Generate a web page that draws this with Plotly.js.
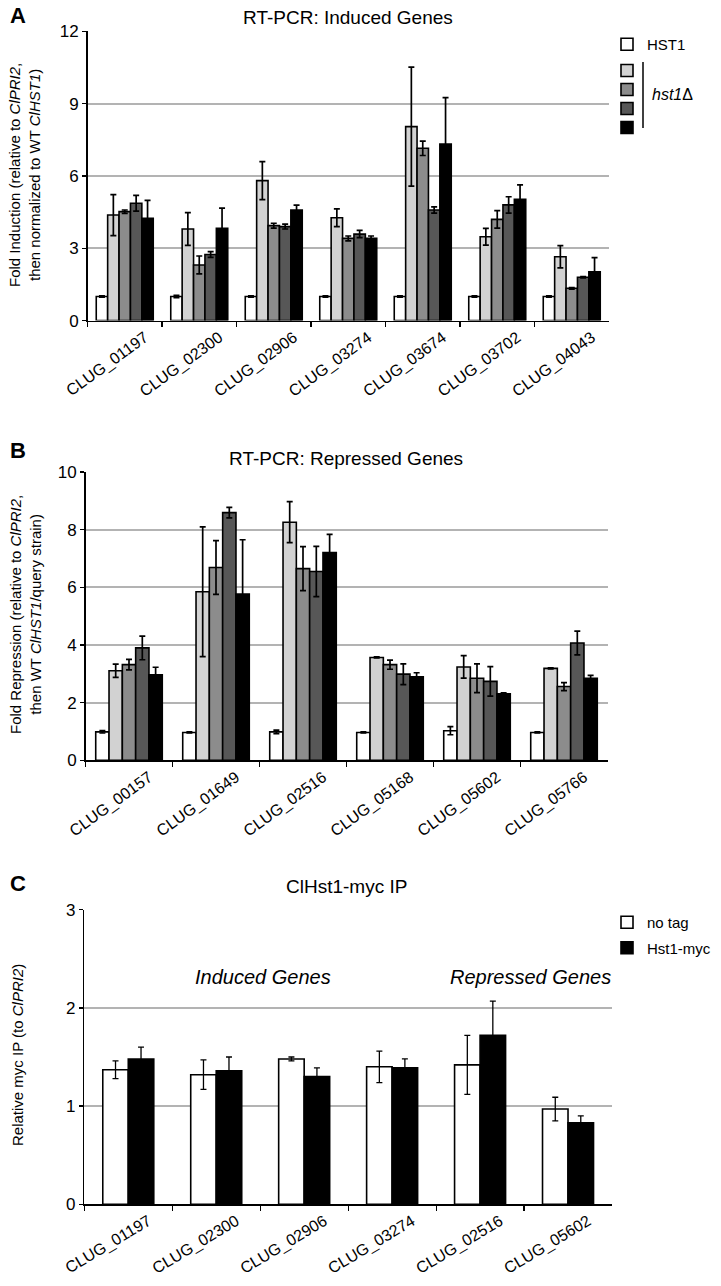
<!DOCTYPE html>
<html>
<head>
<meta charset="utf-8">
<script src="https://cdn.plot.ly/plotly-3.0.1.min.js"></script>
<style>html,body{margin:0;padding:0;background:#fff;}#chart{width:721px;height:1286px;}</style>
</head>
<body>
<div id="chart"></div>
<script>
// ---------- Data ----------
const catsA = ['CLUG_01197','CLUG_02300','CLUG_02906','CLUG_03274','CLUG_03674','CLUG_03702','CLUG_04043'];
const wtA    = [1.00,1.00,1.00,1.00,1.00,1.00,1.00];
const wtAerr = [0.03,0.05,0.03,0.03,0.03,0.03,0.03];
const m1A    = [4.38,3.80,5.81,4.27,8.05,3.48,2.65];
const m1Aerr = [0.85,0.68,0.79,0.37,2.47,0.35,0.46];
const m2A    = [4.52,2.31,3.94,3.41,7.15,4.20,1.34];
const m2Aerr = [0.07,0.37,0.10,0.10,0.30,0.36,0.03];
const m3A    = [4.87,2.74,3.90,3.59,4.59,4.80,1.80];
const m3Aerr = [0.33,0.12,0.10,0.15,0.13,0.34,0.03];
const m4A    = [4.24,3.83,4.59,3.41,7.33,5.03,2.03];
const m4Aerr = [0.75,0.84,0.20,0.10,1.92,0.60,0.58];

const catsB = ['CLUG_00157','CLUG_01649','CLUG_02516','CLUG_05168','CLUG_05602','CLUG_05766'];
const wtB    = [0.99,0.97,0.99,0.97,1.03,0.97];
const wtBerr = [0.04,0.02,0.06,0.02,0.14,0.02];
const m1B    = [3.11,5.85,8.26,3.57,3.24,3.19];
const m1Berr = [0.23,2.25,0.71,0.02,0.39,0.02];
const m2B    = [3.32,6.69,6.65,3.32,2.85,2.56];
const m2Berr = [0.18,0.93,0.76,0.16,0.50,0.14];
const m3B    = [3.90,8.59,6.55,2.99,2.74,4.07];
const m3Berr = [0.41,0.18,0.87,0.36,0.51,0.41];
const m4B    = [2.97,5.77,7.21,2.90,2.31,2.85];
const m4Berr = [0.26,1.88,0.63,0.14,0.03,0.10];

const catsC = ['CLUG_01197','CLUG_02300','CLUG_02906','CLUG_03274','CLUG_02516','CLUG_05602'];
const noTagC    = [1.37,1.32,1.48,1.40,1.42,0.97];
const noTagCerr = [0.09,0.15,0.02,0.16,0.30,0.12];
const mycC      = [1.48,1.36,1.30,1.39,1.72,0.83];
const mycCerr   = [0.12,0.14,0.09,0.09,0.35,0.07];

const seriesNamesA = ['HST1',' ','  ','   ','    '];
const seriesNamesC = ['no tag','Hst1-myc'];
const shades = ['#ffffff','#d2d2d2','#8c8c8c','#575757','#000000'];

// ---------- Build traces ----------
const FONT = 'Liberation Sans, Arial, sans-serif';
function bar(x, y, err, color, name, xa, ya, opts) {
  return Object.assign({
    type: 'bar', x: x, y: y, name: name, xaxis: xa, yaxis: ya,
    marker: {color: color, line: {color: '#000', width: 1.6}},
    error_y: {type: 'data', array: err, visible: true, color: '#000', thickness: 1.7, width: 3},
    hoverinfo: 'x+y'
  }, opts || {});
}
const traces = [];
const aVals = [[wtA,wtAerr],[m1A,m1Aerr],[m2A,m2Aerr],[m3A,m3Aerr],[m4A,m4Aerr]];
aVals.forEach((s,i)=>{
  traces.push(bar(catsA, s[0], s[1], shades[i], seriesNamesA[i], 'x', 'y',
    {legend: i===0 ? 'legend' : 'legend3', showlegend: true}));
});
const bVals = [[wtB,wtBerr],[m1B,m1Berr],[m2B,m2Berr],[m3B,m3Berr],[m4B,m4Berr]];
bVals.forEach((s,i)=>{
  traces.push(bar(catsB, s[0], s[1], shades[i], 'B'+i, 'x2', 'y2', {showlegend: false}));
});
traces.push(bar(catsC, noTagC, noTagCerr, '#ffffff', seriesNamesC[0], 'x3', 'y3',
  {legend: 'legend2', legendgroup: 'c1', width: 0.29, offset: -0.29, error_y: {type:'data', array: noTagCerr, visible:true, color:'#000', thickness:1.3, width:3}}));
traces.push(bar(catsC, mycC, mycCerr, '#000000', seriesNamesC[1], 'x3', 'y3',
  {legend: 'legend2', legendgroup: 'c2', width: 0.29, offset: 0, error_y: {type:'data', array: mycCerr, visible:true, color:'#000', thickness:1.3, width:3}}));

// ---------- Layout ----------
const H = 1286, W = 721;
const py = v => 1 - v / H;   // pixel row -> paper y
const px = v => v / W;       // pixel col -> paper x

function xax(dom, anchor, angle, shift) {
  const o = {
    domain: dom, anchor: anchor, type: 'category',
    showline: true, linecolor: '#000', linewidth: 1.5,
    ticks: 'outside', tickson: 'boundaries', ticklen: 5, tickcolor: '#000', tickwidth: 1.2,
    showgrid: false, tickangle: angle,
    tickfont: {family: FONT, size: 16, color: '#000'},
    fixedrange: true
  };
  if (shift) o.ticklabelshift = shift;
  return o;
}
function yax(dom, anchor, range, dtick) {
  return {
    domain: dom, anchor: anchor, range: range, dtick: dtick, tick0: 0,
    showline: true, linecolor: '#000', linewidth: 1.5,
    ticks: 'outside', ticklen: 4, tickcolor: '#000', tickwidth: 1.2,
    showgrid: true, gridcolor: '#b3b3b3', gridwidth: 2, zeroline: false,
    tickfont: {family: FONT, size: 17, color: '#000'}, fixedrange: true
  };
}

const layout = {
  width: W, height: H, autosize: false,
  margin: {l: 0, r: 0, t: 0, b: 0},
  paper_bgcolor: '#fff', plot_bgcolor: '#fff',
  font: {family: FONT, color: '#000'},
  barmode: 'group', bargap: 0.235, bargroupgap: 0,
  xaxis:  xax([px(87.5), px(609)], 'y', -36, 20),
  yaxis:  yax([py(320.6), py(31.4)], 'x', [0, 12], 3),
  xaxis2: xax([px(85.5), px(607.5)], 'y2', -36, 20),
  yaxis2: yax([py(760.4), py(472)], 'x2', [0, 10], 2),
  xaxis3: xax([px(84.3), px(612)], 'y3', -31, 20),
  yaxis3: yax([py(1204.3), py(909.7)], 'x3', [0, 3], 1),
  legend: {
    x: px(607), y: py(28), xanchor: 'left', yanchor: 'top',
    font: {family: FONT, size: 15, color: '#000'},
    itemclick: false, itemdoubleclick: false, bgcolor: 'rgba(0,0,0,0)'
  },
  legend3: {
    x: px(607), y: py(56), xanchor: 'left', yanchor: 'top',
    font: {family: FONT, size: 8, color: '#000'},
    itemclick: false, itemdoubleclick: false, bgcolor: 'rgba(0,0,0,0)'
  },
  legend2: {
    x: px(607), y: py(906), xanchor: 'left', yanchor: 'top',
    font: {family: FONT, size: 15, color: '#000'},
    tracegroupgap: 3, itemclick: false, itemdoubleclick: false, bgcolor: 'rgba(0,0,0,0)'
  },
  shapes: [
    {type: 'line', xref: 'paper', yref: 'paper', x0: px(643), x1: px(643), y0: py(62), y1: py(128),
     line: {color: '#000', width: 1.5}}
  ],
  annotations: [
    {text: '<b>A</b>', x: px(8), y: py(15), xref: 'paper', yref: 'paper', xanchor: 'left', yanchor: 'middle', showarrow: false, font: {family: FONT, size: 22, color: '#000'}},
    {text: '<b>B</b>', x: px(8), y: py(450), xref: 'paper', yref: 'paper', xanchor: 'left', yanchor: 'middle', showarrow: false, font: {family: FONT, size: 22, color: '#000'}},
    {text: '<b>C</b>', x: px(8), y: py(883), xref: 'paper', yref: 'paper', xanchor: 'left', yanchor: 'middle', showarrow: false, font: {family: FONT, size: 22, color: '#000'}},
    {text: 'RT-PCR: Induced Genes', x: px(348), y: py(17), xref: 'paper', yref: 'paper', xanchor: 'center', yanchor: 'middle', showarrow: false, font: {family: FONT, size: 19, color: '#000'}},
    {text: 'RT-PCR: Repressed Genes', x: px(346), y: py(458), xref: 'paper', yref: 'paper', xanchor: 'center', yanchor: 'middle', showarrow: false, font: {family: FONT, size: 19, color: '#000'}},
    {text: 'ClHst1-myc IP', x: px(346), y: py(886), xref: 'paper', yref: 'paper', xanchor: 'center', yanchor: 'middle', showarrow: false, font: {family: FONT, size: 19, color: '#000'}},
    {text: '<i>hst1</i>Δ', x: px(650), y: py(95), xref: 'paper', yref: 'paper', xanchor: 'left', yanchor: 'middle', showarrow: false, font: {family: FONT, size: 16, color: '#000'}},
    {text: 'Fold Induction (relative to <i>ClPRI2</i>,<br>then normalized to WT <i>ClHST1</i>)', textangle: -90, x: px(25), y: py(175), xref: 'paper', yref: 'paper', xanchor: 'center', yanchor: 'middle', showarrow: false, font: {family: FONT, size: 15, color: '#000'}},
    {text: 'Fold Repression (relative to <i>ClPRI2</i>,<br>then WT <i>ClHST1</i>/query strain)', textangle: -90, x: px(25), y: py(615), xref: 'paper', yref: 'paper', xanchor: 'center', yanchor: 'middle', showarrow: false, font: {family: FONT, size: 15, color: '#000'}},
    {text: 'Relative myc IP (to <i>ClPRI2</i>)', textangle: -90, x: px(17), y: py(1055), xref: 'paper', yref: 'paper', xanchor: 'center', yanchor: 'middle', showarrow: false, font: {family: FONT, size: 15, color: '#000'}},
    {text: '<i>Induced Genes</i>', x: px(263), y: py(977), xref: 'paper', yref: 'paper', xanchor: 'center', yanchor: 'middle', showarrow: false, font: {family: FONT, size: 20, color: '#000'}},
    {text: '<i>Repressed Genes</i>', x: px(530), y: py(977), xref: 'paper', yref: 'paper', xanchor: 'center', yanchor: 'middle', showarrow: false, font: {family: FONT, size: 20, color: '#000'}}
  ]
};

Plotly.newPlot('chart', traces, layout, {displayModeBar: false, staticPlot: true});
</script>
</body>
</html>
